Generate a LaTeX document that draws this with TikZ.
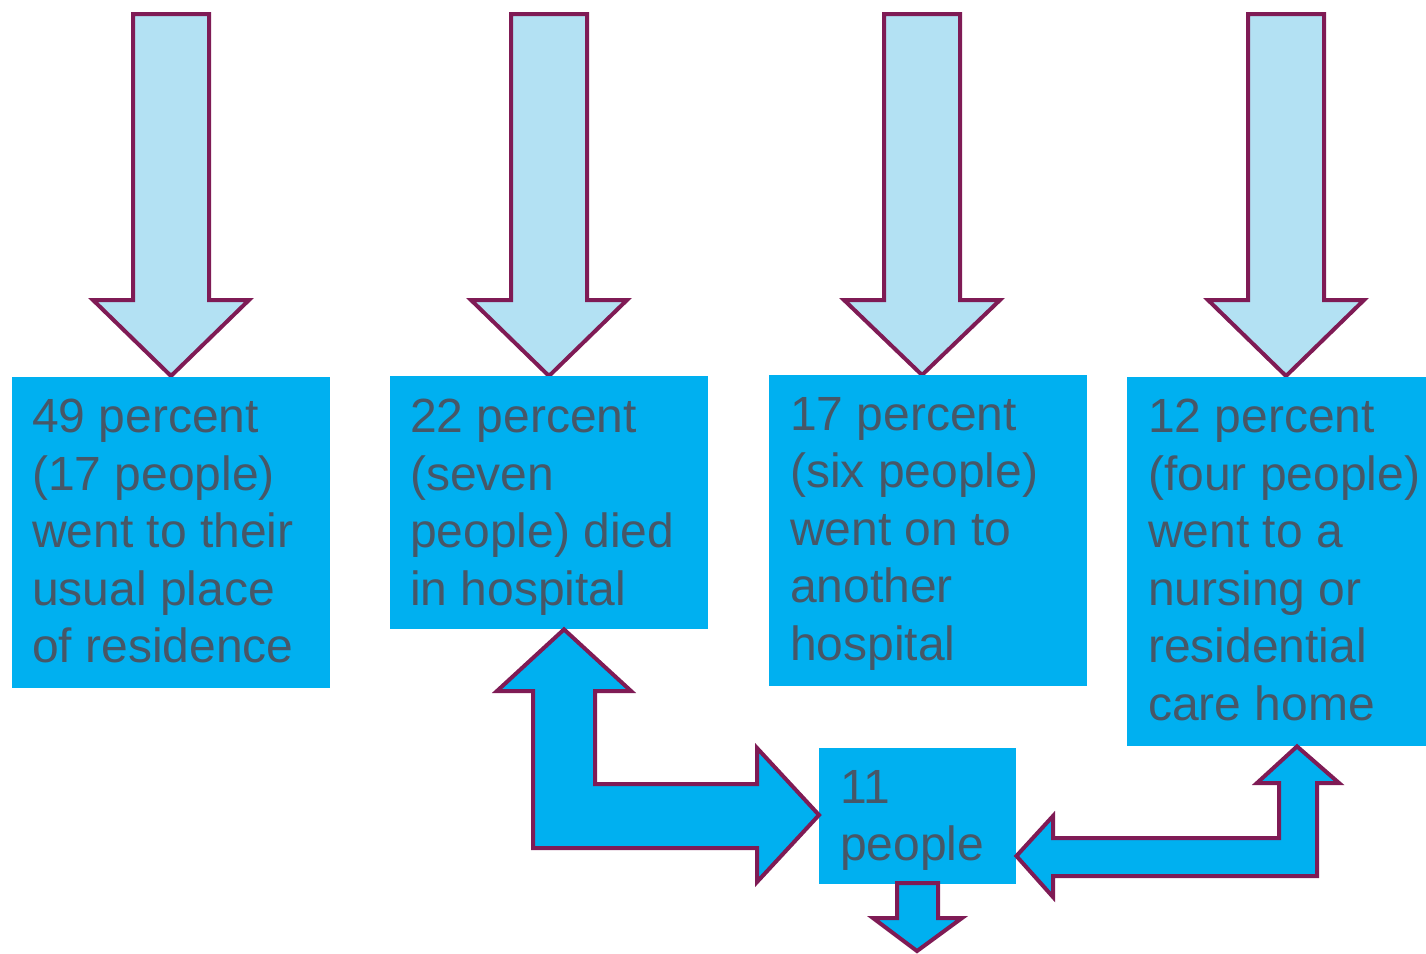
\documentclass[tikz,border=0pt]{standalone}
\usepackage{fontspec}
\setmainfont{Liberation Sans}
\usetikzlibrary{calc}
\definecolor{boxblue}{HTML}{00B0F0}
\definecolor{paleblue}{HTML}{B3E1F3}
\definecolor{plum}{HTML}{7F1B55}
\definecolor{slate}{HTML}{475767}
\tikzset{
  x=1pt, y=-1pt,
  blockarrow/.style={draw=plum, line width=4pt, line join=miter},
  downarrow/.style={blockarrow, fill=paleblue},
  bentarrow/.style={blockarrow, fill=boxblue},
  box/.style={fill=boxblue, draw=none, anchor=north west, inner sep=0pt},
  txt/.style={text=slate, anchor=north west, inner sep=0pt, align=left,
    font=\fontsize{48}{57.5}\selectfont},
}
% vertical block arrow pointing down: tip x, tip y
\newcommand{\dnarrow}[2]{%
  \draw[downarrow] (#1-38,14) -- (#1+38,14) -- (#1+38,300) -- (#1+78,300)
    -- (#1,#2) -- (#1-78,300) -- (#1-38,300) -- cycle;}
\begin{document}
\begin{tikzpicture}
\useasboundingbox (0,0) rectangle (1426,953);

% arrows feeding the four outcome boxes
\dnarrow{171}{376}
\dnarrow{549}{376}
\dnarrow{922}{375}
\dnarrow{1286}{376}

% outcome boxes
\node[box, minimum width=318pt, minimum height=311pt] (b1) at (12,377) {};
\node[box, minimum width=318pt, minimum height=253pt] (b2) at (390,376) {};
\node[box, minimum width=318pt, minimum height=311pt] (b3) at (769,375) {};
\node[box, minimum width=299pt, minimum height=369pt] (b4) at (1127,377) {};
\node[box, minimum width=197pt, minimum height=136pt] (b5) at (819,748) {};

% two-way arrow between the hospital box and the 11 people box
\draw[bentarrow] (b2.south -| 564,0) -- (631,691) -- (595,691) -- (595,784)
  -- (757,784) -- (757,748) -- (b5.west |- 0,815) -- (757,882) -- (757,848)
  -- (533,848) -- (533,691) -- (497,691) -- cycle;

% two-way arrow between the care home box and the 11 people box
\draw[bentarrow] (b4.south -| 1297,0) -- (1339,783) -- (1317,783) -- (1317,876)
  -- (1053,876) -- (1053,897) -- (b5.east |- 0,856) -- (1053,816) -- (1053,838)
  -- (1279,838) -- (1279,783) -- (1257,783) -- cycle;

% outflow below the 11 people box
\coordinate (out) at (917,951);
\draw[bentarrow] (897,883) -- (938,883) -- (938,918) -- (962,918) -- (out)
  -- (873,918) -- (897,918) -- cycle;

% labels
\node[txt] (t1) at ($(b1.north west)+(20,22)$) {49 percent\\(17 people)\\went to their\\usual place\\of residence};
\node[txt] (t2) at ($(b2.north west)+(20,23)$) {22 percent\\(seven\\people) died\\in hospital};
\node[txt] (t3) at ($(b3.north west)+(21,22)$) {17 percent\\(six people)\\went on to\\another\\hospital};
\node[txt] (t4) at ($(b4.north west)+(21,22)$) {12 percent\\(four people)\\went to a\\nursing or\\residential\\care home};
\node[txt] (t5) at ($(b5.north west)+(21,22)$) {11\\people};
\end{tikzpicture}
\end{document}
